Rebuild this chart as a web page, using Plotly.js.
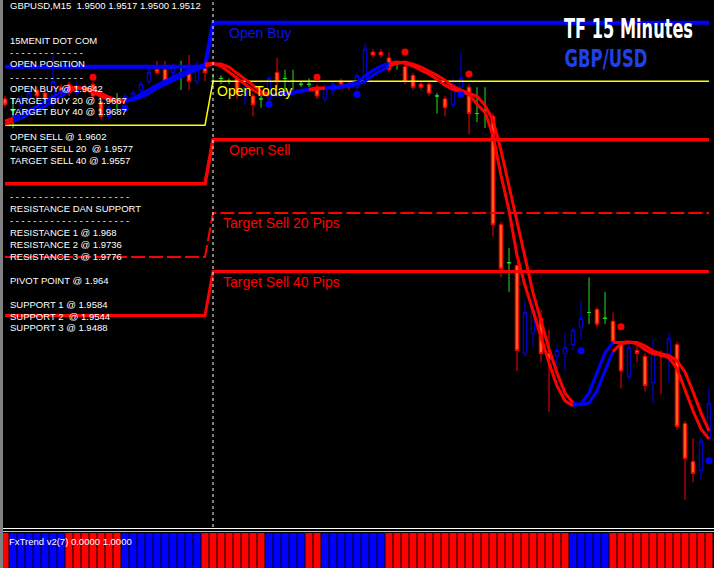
<!DOCTYPE html>
<html>
<head>
<meta charset="utf-8">
<script src="https://cdn.plot.ly/plotly-3.0.1.min.js"></script>
<style>
  html, body { margin: 0; padding: 0; background: #000; overflow: hidden; }
  #chart { width: 714px; height: 568px; }
</style>
</head>
<body>
<div id="chart"></div>
<script>
// GBPUSD M15 bars, oldest first
const open = [
  1.9616, 1.9612, 1.9614, 1.9616, 1.9619, 1.9618, 1.9617, 1.9620, 1.9621, 1.9618,
  1.9620, 1.9621, 1.9615, 1.9610, 1.9616, 1.9615, 1.9616, 1.9619, 1.9622, 1.9626,
  1.9626, 1.9625, 1.9625, 1.9625, 1.9622, 1.9627, 1.9622, 1.9623, 1.9622, 1.9623,
  1.9617, 1.9617, 1.9616, 1.9616, 1.9625, 1.9623, 1.9622, 1.9621, 1.9621, 1.9620,
  1.9616, 1.9619, 1.9622, 1.9621, 1.9620, 1.9622, 1.9632, 1.9632, 1.9630, 1.9628,
  1.9627, 1.9624, 1.9621, 1.9621, 1.9617, 1.9616, 1.9614, 1.9620, 1.9620, 1.9611,
  1.9612, 1.9610, 1.9573, 1.9560, 1.9559, 1.9529, 1.9536, 1.9541, 1.9529, 1.9528,
  1.9529, 1.9532, 1.9538, 1.9543, 1.9544, 1.9541, 1.9540, 1.9532, 1.9521, 1.9530,
  1.9528, 1.9519, 1.9529, 1.9528, 1.9532, 1.9505, 1.9492, 1.9489, 1.9500
];
const high = [
  1.9617, 1.9616, 1.9617, 1.9619, 1.9620, 1.9620, 1.9631, 1.9621, 1.9622, 1.9622,
  1.9621, 1.9622, 1.9616, 1.9614, 1.9618, 1.9618, 1.9619, 1.9622, 1.9627, 1.9629,
  1.9629, 1.9628, 1.9629, 1.9631, 1.9629, 1.9629, 1.9624, 1.9624, 1.9623, 1.9624,
  1.9621, 1.9618, 1.9617, 1.9624, 1.9630, 1.9626, 1.9626, 1.9622, 1.9623, 1.9621,
  1.9621, 1.9622, 1.9623, 1.9622, 1.9625, 1.9635, 1.9633, 1.9633, 1.9632, 1.9629,
  1.9629, 1.9625, 1.9622, 1.9622, 1.9618, 1.9617, 1.9623, 1.9632, 1.9621, 1.9620,
  1.9620, 1.9611, 1.9574, 1.9565, 1.9560, 1.9547, 1.9547, 1.9544, 1.9537, 1.9532,
  1.9536, 1.9538, 1.9547, 1.9555, 1.9545, 1.9550, 1.9543, 1.9533, 1.9533, 1.9533,
  1.9529, 1.9534, 1.9530, 1.9536, 1.9533, 1.9506, 1.9500, 1.9500, 1.9517
];
const low = [
  1.9613, 1.9606, 1.9612, 1.9614, 1.9616, 1.9615, 1.9613, 1.9617, 1.9617, 1.9617,
  1.9618, 1.9616, 1.9609, 1.9609, 1.9612, 1.9614, 1.9615, 1.9618, 1.9621, 1.9624,
  1.9621, 1.9624, 1.9619, 1.9619, 1.9621, 1.9622, 1.9620, 1.9621, 1.9621, 1.9616,
  1.9614, 1.9610, 1.9613, 1.9615, 1.9619, 1.9618, 1.9619, 1.9620, 1.9620, 1.9616,
  1.9615, 1.9617, 1.9620, 1.9619, 1.9619, 1.9621, 1.9630, 1.9630, 1.9625, 1.9626,
  1.9621, 1.9619, 1.9619, 1.9617, 1.9611, 1.9610, 1.9613, 1.9619, 1.9604, 1.9608,
  1.9606, 1.9569, 1.9555, 1.9550, 1.9523, 1.9528, 1.9531, 1.9526, 1.9509, 1.9524,
  1.9523, 1.9530, 1.9534, 1.9539, 1.9538, 1.9539, 1.9532, 1.9517, 1.9520, 1.9526,
  1.9516, 1.9512, 1.9515, 1.9519, 1.9503, 1.9479, 1.9485, 1.9486, 1.9500
];
const close = [
  1.9614, 1.9612, 1.9616, 1.9618, 1.9617, 1.9616, 1.9622, 1.9618, 1.9618, 1.9620,
  1.9619, 1.9617, 1.9610, 1.9613, 1.9616, 1.9617, 1.9618, 1.9621, 1.9625, 1.9625,
  1.9622, 1.9627, 1.9625, 1.9622, 1.9626, 1.9625, 1.9622, 1.9623, 1.9622, 1.9618,
  1.9620, 1.9614, 1.9616, 1.9623, 1.9622, 1.9623, 1.9622, 1.9621, 1.9621, 1.9617,
  1.9620, 1.9621, 1.9621, 1.9620, 1.9624, 1.9633, 1.9631, 1.9631, 1.9626, 1.9628,
  1.9622, 1.9620, 1.9620, 1.9618, 1.9617, 1.9613, 1.9621, 1.9623, 1.9611, 1.9611,
  1.9612, 1.9573, 1.9558, 1.9560, 1.9530, 1.9543, 1.9544, 1.9529, 1.9527, 1.9530,
  1.9531, 1.9537, 1.9541, 1.9543, 1.9539, 1.9541, 1.9533, 1.9523, 1.9531, 1.9529,
  1.9518, 1.9529, 1.9528, 1.9534, 1.9504, 1.9493, 1.9488, 1.9499, 1.9512
];

// FxTrend v2(7) direction per bar: 1 = up (blue), -1 = down (red)
const trend = [
  -1, 1, 1, 1, 1, 1, 1, 1, -1, -1,
  -1, -1, -1, -1, -1, 1, 1, 1, 1, 1,
  1, 1, 1, 1, 1, -1, -1, -1, -1, -1,
  -1, -1, -1, 1, 1, 1, 1, 1, -1, -1,
  1, 1, 1, 1, 1, 1, 1, 1, -1, -1,
  -1, -1, -1, -1, -1, -1, -1, -1, -1, -1,
  -1, -1, -1, -1, -1, -1, -1, -1, -1, -1,
  -1, 1, 1, 1, 1, 1, -1, -1, -1, -1,
  -1, -1, -1, -1, -1, -1, -1, -1, -1
];

// Twin trend averages: fast and slow
const maFast = [
  1.96084, 1.96094, 1.96108, 1.96121, 1.96135, 1.96152, 1.96169, 1.96186, 1.96200, 1.96200,
  1.96193, 1.96183, 1.96169, 1.96159, 1.96152, 1.96152, 1.96162, 1.96176, 1.96193, 1.96207,
  1.96221, 1.96234, 1.96248, 1.96258, 1.96269, 1.96279, 1.96282, 1.96272, 1.96251, 1.96231,
  1.96210, 1.96190, 1.96176, 1.96173, 1.96176, 1.96179, 1.96183, 1.96190, 1.96193, 1.96197,
  1.96197, 1.96200, 1.96203, 1.96210, 1.96217, 1.96238, 1.96258, 1.96272, 1.96282, 1.96286,
  1.96282, 1.96272, 1.96258, 1.96245, 1.96227, 1.96207, 1.96193, 1.96183, 1.96176, 1.96142,
  1.96114, 1.96036, 1.95899, 1.95779, 1.95625, 1.95522, 1.95436, 1.95347, 1.95258, 1.95179,
  1.95128, 1.95111, 1.95118, 1.95155, 1.95224, 1.95292, 1.95327, 1.95327, 1.95330, 1.95323,
  1.95303, 1.95289, 1.95286, 1.95275, 1.95238, 1.95169, 1.95094, 1.95032, 1.94998
];
const maSlow = [
  1.96073, 1.96084, 1.96094, 1.96108, 1.96121, 1.96135, 1.96152, 1.96169, 1.96186, 1.96197,
  1.96197, 1.96190, 1.96179, 1.96166, 1.96156, 1.96152, 1.96156, 1.96166, 1.96179, 1.96197,
  1.96210, 1.96224, 1.96238, 1.96251, 1.96262, 1.96272, 1.96279, 1.96279, 1.96269, 1.96248,
  1.96227, 1.96207, 1.96186, 1.96176, 1.96173, 1.96176, 1.96179, 1.96186, 1.96190, 1.96193,
  1.96197, 1.96197, 1.96200, 1.96203, 1.96210, 1.96221, 1.96241, 1.96258, 1.96272, 1.96282,
  1.96286, 1.96279, 1.96269, 1.96255, 1.96241, 1.96224, 1.96203, 1.96190, 1.96179, 1.96169,
  1.96138, 1.96087, 1.95984, 1.95864, 1.95738, 1.95614, 1.95498, 1.95402, 1.95306, 1.95224,
  1.95155, 1.95121, 1.95114, 1.95121, 1.95162, 1.95231, 1.95296, 1.95323, 1.95327, 1.95327,
  1.95316, 1.95299, 1.95289, 1.95282, 1.95265, 1.95227, 1.95159, 1.95087, 1.95025
];

// Signal dots
const sellDotBars = [11, 39, 50, 58, 77];
const sellDotPrices = [1.96234, 1.96234, 1.96320, 1.96245, 1.95381];
const buyDotBars = [15, 33, 44, 57, 72, 88];
const buyDotPrices = [1.96128, 1.96142, 1.96176, 1.96176, 1.95299, 1.94923];

// Daily levels as [previous day, today]; today starts at bar 26
const dayStartBar = 26;
const openBuyLevel = [1.9627, 1.9642];
const openTodayLevel = [1.9607, 1.9622];
const openSellLevel = [1.9587, 1.9602];
const sellTarget20Level = [1.9562, 1.9577];
const sellTarget40Level = [1.9542, 1.9557];

// Info panel lines (text, vertical pixel centre)
const dashShort = '- - - - - - - - - - - - -';
const dashLong = '- - - - - - - - - - - - - - - - - - - - -';
const infoText = [
  'GBPUSD,M15\u00a0 1.9500 1.9517 1.9500 1.9512',
  '15MENIT DOT COM', dashShort, 'OPEN POSITION', dashShort,
  'OPEN BUY @ 1.9642', 'TARGET BUY 20 @ 1.9667', 'TARGET BUY 40 @ 1.9687',
  'OPEN SELL @ 1.9602', 'TARGET SELL 20\u00a0 @ 1.9577', 'TARGET SELL 40 @ 1.9557',
  dashLong, 'RESISTANCE DAN SUPPORT', dashLong,
  'RESISTANCE 1 @ 1.968', 'RESISTANCE 2 @ 1.9736', 'RESISTANCE 3 @ 1.9776',
  'PIVOT POINT @ 1.964',
  'SUPPORT 1 @ 1.9584', 'SUPPORT 2\u00a0 @ 1.9544', 'SUPPORT 3 @ 1.9488'
];
const infoRows = [6, 40.7, 52.7, 64, 77.3, 88.3, 100, 111.7, 136.7, 148.3, 160,
  196.7, 208.3, 220.7, 232.3, 244.3, 256, 280, 304.3, 316, 327.7];

// Corner captions and the pixel width each one is set to
const captionTF = 'TF 15 Minutes';
const captionPair = 'GBP/USD';
const captionWidths = { [captionTF]: 129, [captionPair]: 83 };

// ---- geometry ----
const W = 714, H = 568;
const MAIN_BOTTOM = 527;          // px, bottom of the price pane
const SUB_TOP = 533;              // px, top of the indicator pane
const bars = open.map((_, i) => i);

function candleSet(test) {
  const idx = bars.filter(test);
  return {
    x: idx,
    open: idx.map(i => open[i]), high: idx.map(i => high[i]),
    low: idx.map(i => low[i]), close: idx.map(i => close[i])
  };
}
function candleTrace(set, lineColor, fill) {
  const side = { line: { color: lineColor, width: 1 }, fillcolor: fill };
  return Object.assign({
    type: 'candlestick', increasing: side, decreasing: side,
    whiskerwidth: 0, hoverinfo: 'none', showlegend: false
  }, set);
}
function levelTrace(level, color, width, dash) {
  return {
    type: 'scatter', mode: 'lines', x: bars,
    y: bars.map(i => i < dayStartBar ? level[0] : level[1]),
    line: { color: color, width: width, dash: dash || 'solid' }, hoverinfo: 'none'
  };
}
function maTrace(series, dir) {
  const y = series.map((v, i) =>
    (trend[i] === dir || (i > 0 && trend[i - 1] === dir)) ? v : null);
  return {
    type: 'scatter', mode: 'lines', x: bars, y: y, connectgaps: false,
    line: { color: dir > 0 ? '#0000ff' : '#ff0000', width: 3 }, hoverinfo: 'none'
  };
}

const traces = [
  candleTrace(candleSet(i => close[i] > open[i]), '#0000ff', '#000000'),
  candleTrace(candleSet(i => close[i] < open[i]), '#ff0000', '#ff5a1e'),
  candleTrace(candleSet(i => close[i] === open[i]), '#22dd22', '#22dd22'),
  levelTrace(openTodayLevel, '#ffff00', 1.5),
  levelTrace(openBuyLevel, '#0000ff', 4),
  levelTrace(openSellLevel, '#ff0000', 3.5),
  levelTrace(sellTarget20Level, '#ff0000', 2, '14px,4px'),
  levelTrace(sellTarget40Level, '#ff0000', 3),
  maTrace(maSlow, 1), maTrace(maSlow, -1),
  maTrace(maFast, 1), maTrace(maFast, -1),
  { type: 'scatter', mode: 'markers', x: sellDotBars, y: sellDotPrices,
    marker: { color: '#ff0000', size: 7 }, hoverinfo: 'none' },
  { type: 'scatter', mode: 'markers', x: buyDotBars, y: buyDotPrices,
    marker: { color: '#0000ff', size: 7 }, hoverinfo: 'none' },
  { type: 'bar', x: bars, y: trend.map(t => t > 0 ? 1 : 0), yaxis: 'y2', width: 0.875,
    marker: { color: '#0000ff', line: { width: 0 } }, hoverinfo: 'none' },
  { type: 'bar', x: bars, y: trend.map(t => t < 0 ? 1 : 0), yaxis: 'y2', width: 0.875,
    marker: { color: '#ff0000', line: { width: 0 } }, hoverinfo: 'none' }
];

const py = p => 1 - p / H;
const px = p => p / W;
const panelFont = { family: 'Liberation Sans, Arial, sans-serif', size: 9.5, color: '#ffffff' };
const labelFont = c => ({ family: 'Liberation Sans, Arial, sans-serif', size: 14, color: c });
const captionFont = (size, c) => ({ family: 'DejaVu Sans, sans-serif', size: size, color: c, weight: 'bold' });

const annotations = infoText.map((t, i) => ({
  xref: 'paper', yref: 'paper', x: px(7.5), y: py(infoRows[i]),
  xanchor: 'left', yanchor: 'middle', showarrow: false, text: t, font: panelFont
}));

function levelLabel(text, bar, price, color) {
  return { xref: 'x', yref: 'y', x: bar, y: price, xanchor: 'left', yanchor: 'top',
    showarrow: false, text: text, font: labelFont(color) };
}
annotations.push(
  levelLabel('Open Buy', 27.8, openBuyLevel[1], '#1010f0'),
  levelLabel('Open Today', 26.2, openTodayLevel[1], '#ffff00'),
  levelLabel('Open Sell', 27.7, openSellLevel[1], '#ff0000'),
  levelLabel('Target Sell 20 Pips', 27.0, sellTarget20Level[1], '#ff0000'),
  levelLabel('Target Sell 40 Pips', 27.0, sellTarget40Level[1], '#ff0000'),
  { xref: 'paper', yref: 'paper', x: px(628.5), y: py(28.5), xanchor: 'center', yanchor: 'middle',
    showarrow: false, text: captionTF, font: captionFont(27, '#ffffff') },
  { xref: 'paper', yref: 'paper', x: px(605.5), y: py(58.5), xanchor: 'center', yanchor: 'middle',
    showarrow: false, text: captionPair, font: captionFont(25, '#2040e8') },
  { xref: 'paper', yref: 'paper', x: px(6.5), y: py(541), xanchor: 'left', yanchor: 'middle',
    showarrow: false, text: 'FxTrend v2(7) 0.0000 1.0000', font: panelFont }
);

const shapes = [
  // day separator
  { type: 'line', xref: 'x', yref: 'paper', x0: dayStartBar, x1: dayStartBar,
    y0: py(MAIN_BOTTOM), y1: 1, line: { color: '#ffffff', width: 1, dash: '3px,3px' } },
  // pane separators
  { type: 'line', xref: 'paper', yref: 'paper', x0: 0, x1: 1, y0: py(528.5), y1: py(528.5),
    line: { color: '#ffffff', width: 1 } },
  { type: 'line', xref: 'paper', yref: 'paper', x0: 0, x1: 1, y0: py(531.5), y1: py(531.5),
    line: { color: '#c0c0c0', width: 1 } },
  // window edge
  { type: 'rect', xref: 'paper', yref: 'paper', x0: 0, x1: px(3), y0: 0, y1: 1,
    fillcolor: '#808080', line: { width: 0 } }
];

const layout = {
  width: W, height: H,
  margin: { l: 0, r: 0, t: 0, b: 0, pad: 0 },
  paper_bgcolor: '#000000', plot_bgcolor: '#000000',
  showlegend: false, hovermode: false, dragmode: false,
  barmode: 'overlay', boxgap: 0.38,
  xaxis: { range: [-0.625, 88.625], visible: false, fixedrange: true, rangeslider: { visible: false } },
  yaxis: { domain: [py(MAIN_BOTTOM), 1], range: [1.946967, 1.964981], visible: false, fixedrange: true },
  yaxis2: { domain: [0, py(SUB_TOP)], range: [0, 1], visible: false, fixedrange: true },
  shapes: shapes,
  annotations: annotations
};

Plotly.newPlot('chart', traces, layout, { staticPlot: true, displayModeBar: false })
  .then(gd => {
    // condense the corner captions horizontally to their set widths
    gd.querySelectorAll('.annotation-text').forEach(t => {
      const w = captionWidths[t.textContent];
      if (!w) return;
      const natural = t.getComputedTextLength();
      t.style.transformBox = 'fill-box';
      t.style.transformOrigin = 'center';
      t.style.transform = 'scaleX(' + (w / natural) + ')';
      const bg = t.parentNode.querySelector('rect.bg');
      if (bg) {
        const bw = parseFloat(bg.getAttribute('width'));
        const bx = parseFloat(bg.getAttribute('x')) || 0;
        const nw = w + 4;
        bg.setAttribute('x', bx + (bw - nw) / 2);
        bg.setAttribute('width', nw);
      }
    });
  });
</script>
</body>
</html>
